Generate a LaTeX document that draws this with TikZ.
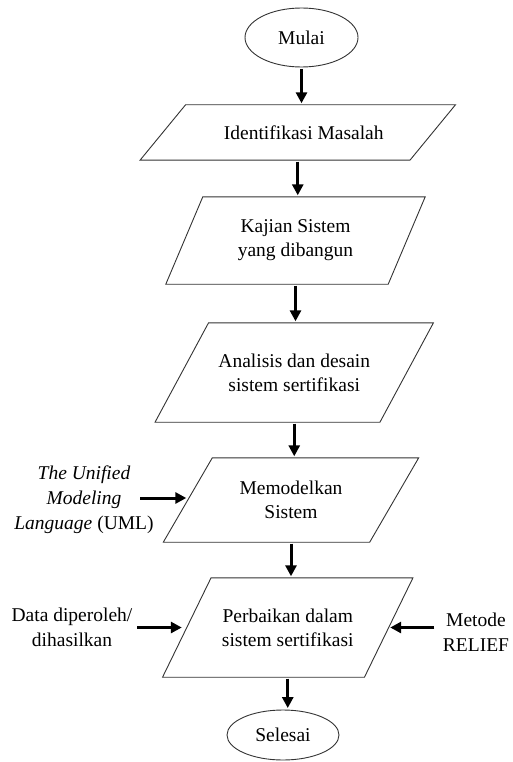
\documentclass[tikz,border=0pt]{standalone}
\usepackage{fontspec}
\setmainfont{Liberation Serif}
\usetikzlibrary{shapes.geometric,arrows.meta}
% draws a parallelogram round a rectangular node: #1 node name, #2 half of the slant
\newcommand{\slantbox}[2]{%
  \draw[boxline] ([xshift=#2]#1.north west) -- ([xshift=#2]#1.north east)
    -- ([xshift=-#2]#1.south east) -- ([xshift=-#2]#1.south west) -- cycle;}
\begin{document}
\begin{tikzpicture}[x=1pt,y=-1pt,
  every node/.style={font=\fontsize{19.5}{24}\selectfont, inner sep=0pt},
  boxline/.style={draw=black!80, line width=0.9pt, line join=miter},
  terminal/.style={boxline, ellipse},
  io/.style={rectangle, align=center},
  flow/.style={line width=3pt, -{Triangle[length=11pt,width=11pt]}, shorten >=1.5pt, shorten <=1.5pt},
  sidetext/.style={align=center, font=\fontsize{19.5}{25}\selectfont}
]
\useasboundingbox (0,0) rectangle (513,762);

% main flow
\node[terminal, minimum width=113pt, minimum height=59pt] (mulai) at (301.5,37.5) {Mulai};
\node[io, minimum width=269.5pt, minimum height=55pt] (identifikasi) at (297.75,132.5)
      {\hspace*{12pt}Identifikasi Masalah};
\node[io, minimum width=222pt, minimum height=87pt] (kajian) at (295.5,240.5)
      {Kajian Sistem\\yang dibangun};
\node[io, minimum width=224.5pt, minimum height=99pt] (analisis) at (294.25,372.5)
      {Analisis dan desain\\sistem sertifikasi};
\node[io, minimum width=206pt, minimum height=84pt] (memodelkan) at (291,500)
      {Memodelkan\\Sistem};
\node[io, minimum width=201.5pt, minimum height=99pt] (perbaikan) at (287.75,627.5)
      {Perbaikan dalam\\sistem sertifikasi};
\node[terminal, minimum width=112pt, minimum height=50pt] (selesai) at (283,735) {Selesai};

\slantbox{identifikasi}{22.75pt}
\slantbox{kajian}{18.5pt}
\slantbox{analisis}{26.75pt}
\slantbox{memodelkan}{24.5pt}
\slantbox{perbaikan}{24.25pt}

% side inputs
\node[sidetext] (uml) at (84,500) {\textit{The Unified}\\\textit{Modeling}\\\textit{Language} (UML)};
\node[sidetext] (data) at (72,627.5) {Data diperoleh/\\dihasilkan};
\node[sidetext] (relief) at (476,632) {Metode\\RELIEF};
\coordinate (umlfrom) at (140,498);

% connectors
\draw[flow] (mulai.south) -- (mulai.south |- identifikasi.north);
\draw[flow] (identifikasi.south) -- (identifikasi.south |- kajian.north);
\draw[flow] (kajian.south) -- (kajian.south |- analisis.north);
\draw[flow] (analisis.south) -- (analisis.south |- memodelkan.north);
\draw[flow] (memodelkan.south) -- (memodelkan.south |- perbaikan.north);
\draw[flow] (perbaikan.south) -- (perbaikan.south |- selesai.north);

\draw[flow, shorten <=0pt] (umlfrom) -- (umlfrom -| memodelkan.west);
\draw[flow, shorten >=5pt] ([xshift=3pt]data.east) -- (perbaikan.west);
\draw[flow] ([xshift=-7pt]relief.west |- perbaikan.west) -- (perbaikan.east);
\end{tikzpicture}
\end{document}
